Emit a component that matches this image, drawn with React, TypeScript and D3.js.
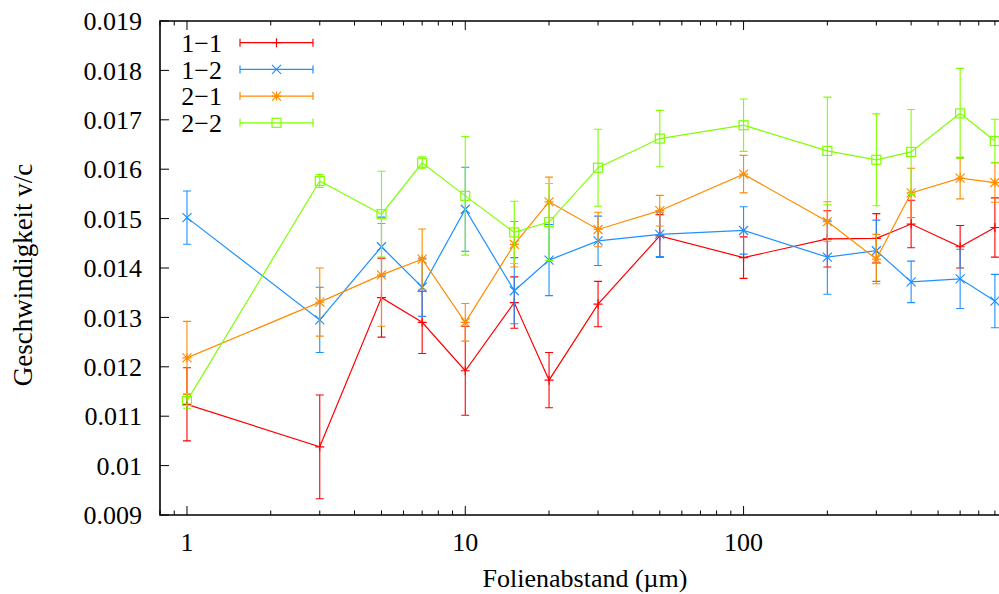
import React from "react";
import * as d3 from "d3";

const xs = [1, 3, 5, 7, 10, 15, 20, 30, 50, 100, 200, 300, 400, 600, 800];

const s11 = [0.01124, 0.01038, 0.0134, 0.0129, 0.01192, 0.0133, 0.01173, 0.01327, 0.01465, 0.01421, 0.01459, 0.0146, 0.01489, 0.01443, 0.01482];
const e11 = [0.00074, 0.00105, 0.0008, 0.00063, 0.0009, 0.00052, 0.00056, 0.00046, 0.00043, 0.00042, 0.00057, 0.0005, 0.00048, 0.00043, 0.0006];

const s12 = [0.01502, 0.01295, 0.01443, 0.01361, 0.01519, 0.01354, 0.01416, 0.01455, 0.01468, 0.01476, 0.01422, 0.01435, 0.01372, 0.01378, 0.01333];
const e12 = [0.00054, 0.00066, 0.0006, 0.00059, 0.00085, 0.00067, 0.00072, 0.0005, 0.00045, 0.00048, 0.00075, 0.00062, 0.00042, 0.0006, 0.00054];

const s21 = [0.01218, 0.01331, 0.01386, 0.01418, 0.0129, 0.01448, 0.01534, 0.01478, 0.01516, 0.0159, 0.01494, 0.01418, 0.01552, 0.01582, 0.01573];
const e21 = [0.00074, 0.00069, 0.00104, 0.00061, 0.00038, 0.00046, 0.0005, 0.00035, 0.00031, 0.00038, 0.0004, 0.0005, 0.0005, 0.00042, 0.0004];

const s22 = [0.01131, 0.01576, 0.01509, 0.01613, 0.01546, 0.01472, 0.01493, 0.01603, 0.01662, 0.01689, 0.01637, 0.01619, 0.01635, 0.01713, 0.01657];
const e22 = [0.00015, 0.00013, 0.00087, 0.00012, 0.0012, 0.00063, 0.00078, 0.00078, 0.00057, 0.00053, 0.00109, 0.00093, 0.00086, 0.00091, 0.00044];

const seriesNames = ["1−1", "1−2", "2−1", "2−2"];
const seriesValues = [s11, s12, s21, s22];
const seriesErrors = [e11, e12, e21, e22];
const seriesColors = ["#ff0000", "#1e90ff", "#ff8c00", "#7fff00"];
const seriesMarkers = ["plus", "cross", "star", "square"];

const yTicks = [0.009, 0.01, 0.011, 0.012, 0.013, 0.014, 0.015, 0.016, 0.017, 0.018, 0.019];
const yTickLabels = ["0.009", "0.01", "0.011", "0.012", "0.013", "0.014", "0.015", "0.016", "0.017", "0.018", "0.019"];
const xMajorTicks = [1, 10, 100, 1000];
const xTickLabels = ["1", "10", "100", ""];

const FONT = "'Liberation Serif', 'Times New Roman', Times, serif";

const left = 160, top = 21, bottom = 515;
const decade = 278.3;
const xDomain = [0.8, 1000];
const x = d3.scaleLog().domain(xDomain).range([left, left + Math.log10(xDomain[1] / xDomain[0]) * decade]);
const y = d3.scaleLinear().domain([0.009, 0.019]).range([bottom, top]);
const right = x(1000);

function Marker({ type, cx, cy, color }: { type: string; cx: number; cy: number; color: string }) {
  const r = 4.5;
  const sw = 1.2;
  if (type === "plus") {
    return <path d={`M${cx - r},${cy}H${cx + r}M${cx},${cy - r}V${cy + r}`} stroke={color} strokeWidth={sw} fill="none" />;
  }
  if (type === "cross") {
    return <path d={`M${cx - r},${cy - r}L${cx + r},${cy + r}M${cx - r},${cy + r}L${cx + r},${cy - r}`} stroke={color} strokeWidth={sw} fill="none" />;
  }
  if (type === "star") {
    return (
      <path
        d={`M${cx - r},${cy}H${cx + r}M${cx},${cy - r}V${cy + r}M${cx - r},${cy - r}L${cx + r},${cy + r}M${cx - r},${cy + r}L${cx + r},${cy - r}`}
        stroke={color}
        strokeWidth={sw}
        fill="none"
      />
    );
  }
  return <rect x={cx - r} y={cy - r} width={2 * r} height={2 * r} stroke={color} strokeWidth={sw} fill="none" />;
}

export default function App() {
  const minorTicks: number[] = [];
  [0.1, 1, 10, 100].forEach((d) => {
    for (let k = 2; k <= 9; k++) {
      const v = d * k;
      if (v >= xDomain[0] && v <= xDomain[1] && !xMajorTicks.includes(v)) minorTicks.push(v);
    }
  });
  const line = d3.line<number>().x((_, i) => x(xs[i])).y((v) => y(v));
  const cap = 4;

  return (
    <svg width={999} height={594} style={{ position: "fixed", left: 0, top: 0, background: "#fff", fontFamily: FONT }}>
      <rect x={0} y={0} width={999} height={594} fill="#fff" />
      {seriesValues.map((vals, si) => {
        const color = seriesColors[si];
        const errs = seriesErrors[si];
        return (
          <g key={si}>
            {vals.map((v, i) => {
              const cx = x(xs[i]);
              const y1 = y(v - errs[i]);
              const y2 = y(v + errs[i]);
              return (
                <path
                  key={"e" + i}
                  d={`M${cx},${y1}V${y2}M${cx - cap},${y1}H${cx + cap}M${cx - cap},${y2}H${cx + cap}`}
                  stroke={color}
                  strokeWidth={1.1}
                  fill="none"
                />
              );
            })}
            <path d={line(vals) || ""} stroke={color} strokeWidth={1.2} fill="none" />
            {vals.map((v, i) => (
              <Marker key={"m" + i} type={seriesMarkers[si]} cx={x(xs[i])} cy={y(v)} color={color} />
            ))}
          </g>
        );
      })}
      <path d={`M${right + 10},${top}H${left}V${bottom}H${right + 10}`} stroke="#000" strokeWidth={1.6} fill="none" />
      {yTicks.map((t, i) => (
        <g key={"y" + i}>
          <line x1={left} x2={left + 9} y1={y(t)} y2={y(t)} stroke="#000" strokeWidth={1} />
          <text x={142} y={y(t)} dy="0.35em" textAnchor="end" fontSize={26}>
            {yTickLabels[i]}
          </text>
        </g>
      ))}
      {xMajorTicks.map((t, i) => (
        <g key={"xm" + i}>
          <line x1={x(t)} x2={x(t)} y1={bottom} y2={bottom - 9} stroke="#000" strokeWidth={1} />
          <line x1={x(t)} x2={x(t)} y1={top} y2={top + 9} stroke="#000" strokeWidth={1} />
          {xTickLabels[i] ? (
            <text x={x(t)} y={551} textAnchor="middle" fontSize={26}>
              {xTickLabels[i]}
            </text>
          ) : null}
        </g>
      ))}
      {minorTicks.map((t, i) => (
        <g key={"xn" + i}>
          <line x1={x(t)} x2={x(t)} y1={bottom} y2={bottom - 4.5} stroke="#000" strokeWidth={1} />
          <line x1={x(t)} x2={x(t)} y1={top} y2={top + 4.5} stroke="#000" strokeWidth={1} />
        </g>
      ))}
      <text x={585} y={587} textAnchor="middle" fontSize={26}>
        Folienabstand (µm)
      </text>
      <text transform={`translate(32,${275}) rotate(-90)`} textAnchor="middle" fontSize={27}>
        Geschwindigkeit v/c
      </text>
      {seriesNames.map((name, si) => {
        const ly = 42.7 + si * 26.7;
        const color = seriesColors[si];
        return (
          <g key={"l" + si}>
            <text x={222} y={ly} dy="0.35em" textAnchor="end" fontSize={26}>
              {name}
            </text>
            <path
              d={`M240,${ly}H313M240,${ly - 4}V${ly + 4}M313,${ly - 4}V${ly + 4}`}
              stroke={color}
              strokeWidth={1.2}
              fill="none"
            />
            <Marker type={seriesMarkers[si]} cx={276.5} cy={ly} color={color} />
          </g>
        );
      })}
    </svg>
  );
}
